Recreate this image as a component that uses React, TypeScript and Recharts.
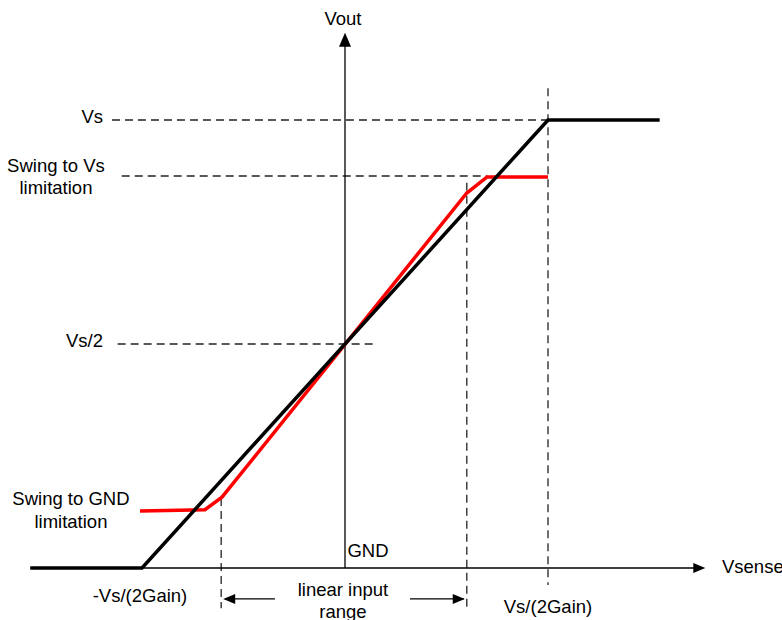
import React from 'react'
import { ComposedChart, Line, XAxis, YAxis, ReferenceLine, ReferenceDot } from 'recharts'

// x: multiples of Vs/(2Gain), y: multiples of Vs
const idealX = [-1.55, -1, 1, 1.55]
const idealY = [0, 0, 1, 1]
const realX = [-1.01, -0.69, -0.606, 0.6, 0.7, 1.0]
const realY = [0.127, 0.13, 0.158, 0.837, 0.873, 0.873]

const idealData = idealX.map((x, i) => ({ x, y: idealY[i] }))
const realData = realX.map((x, i) => ({ x, y: realY[i] }))

const dashed = [
  { from: [-1.148, 1], to: [1.0, 1] },
  { from: [-1.1, 0.875], to: [0.7, 0.875] },
  { from: [-1.12, 0.5], to: [0.148, 0.5] },
  { from: [1.0, 1.071], to: [1.0, -0.038] },
  { from: [0.6, 0.86], to: [0.6, -0.09] },
  { from: [-0.61, 0.156], to: [-0.61, -0.09] },
]

const solid = [
  { from: [0, 0], to: [0, 1.17] },
  { from: [-1.55, 0], to: [1.72, 0] },
  { from: [-0.59, -0.069], to: [-0.345, -0.069] },
  { from: [0.32, -0.069], to: [0.585, -0.069] },
]

// arrow heads: position + direction
const arrows = [
  { x: 0, y: 1.195, dir: 'up', len: 14, half: 6 },
  { x: 1.775, y: 0, dir: 'right', len: 12, half: 5 },
  { x: -0.6, y: -0.069, dir: 'left', len: 12, half: 5 },
  { x: 0.59, y: -0.069, dir: 'right', len: 12, half: 5 },
]

const labels = [
  { text: 'Vout', x: -0.01, y: 1.212, anchor: 'middle' },
  { text: 'Vs', x: -1.192, y: 0.993, anchor: 'end' },
  { text: 'Swing to Vs', x: -1.424, y: 0.884, anchor: 'middle' },
  { text: 'limitation', x: -1.424, y: 0.835, anchor: 'middle' },
  { text: 'Vs/2', x: -1.192, y: 0.493, anchor: 'end' },
  { text: 'Swing to GND', x: -1.35, y: 0.141, anchor: 'middle' },
  { text: 'limitation', x: -1.35, y: 0.089, anchor: 'middle' },
  { text: 'GND', x: 0.113, y: 0.025, anchor: 'middle' },
  { text: '-Vs/(2Gain)', x: -1.01, y: -0.076, anchor: 'middle' },
  { text: 'linear input', x: -0.01, y: -0.0625, anchor: 'middle' },
  { text: 'range', x: -0.01, y: -0.112, anchor: 'middle' },
  { text: 'Vs/(2Gain)', x: 1.0, y: -0.1, anchor: 'middle' },
  { text: 'Vsense', x: 1.857, y: -0.011, anchor: 'start' },
]

const font = '"Liberation Sans", Arial, sans-serif'

function arrowShape(dir: string, len: number, half: number) {
  return (props: any) => {
    const { cx, cy } = props
    let d = ''
    if (dir === 'up') d = `M${cx},${cy} L${cx - half},${cy + len} L${cx + half},${cy + len} Z`
    if (dir === 'right') d = `M${cx},${cy} L${cx - len},${cy - half} L${cx - len},${cy + half} Z`
    if (dir === 'left') d = `M${cx},${cy} L${cx + len},${cy - half} L${cx + len},${cy + half} Z`
    return <path d={d} fill="#000" />
  }
}

function textShape(text: string, anchor: any) {
  return (props: any) => (
    <text x={props.cx} y={props.cy} textAnchor={anchor} fontFamily={font} fontSize={18.5} fill="#000">
      {text}
    </text>
  )
}

export default function App() {
  return (
    <div style={{ position: 'absolute', left: 0, top: 0, background: '#fff' }}>
      <ComposedChart width={782} height={620} margin={{ top: 8, right: 71.6, bottom: 7.2, left: 20.2 }}>
        <XAxis type="number" dataKey="x" domain={[-1.6, 1.8]} hide allowDataOverflow />
        <YAxis type="number" dataKey="y" domain={[-0.1, 1.25]} hide allowDataOverflow />
        {dashed.map((s, i) => (
          <ReferenceLine
            key={'d' + i}
            segment={[{ x: s.from[0], y: s.from[1] }, { x: s.to[0], y: s.to[1] }]}
            stroke="#222"
            strokeWidth={1.3}
            strokeDasharray="8 5"
            ifOverflow="visible"
          />
        ))}
        {solid.map((s, i) => (
          <ReferenceLine
            key={'s' + i}
            segment={[{ x: s.from[0], y: s.from[1] }, { x: s.to[0], y: s.to[1] }]}
            stroke="#000"
            strokeWidth={1.3}
            ifOverflow="visible"
          />
        ))}
        <Line data={realData} dataKey="y" type="linear" stroke="#ff0000" strokeWidth={3.5} dot={false} isAnimationActive={false} />
        <Line data={idealData} dataKey="y" type="linear" stroke="#000" strokeWidth={3.5} dot={false} isAnimationActive={false} />
        {arrows.map((a, i) => (
          <ReferenceDot key={'a' + i} x={a.x} y={a.y} r={0} ifOverflow="visible" shape={arrowShape(a.dir, a.len, a.half)} />
        ))}
        {labels.map((l, i) => (
          <ReferenceDot key={'l' + i} x={l.x} y={l.y} r={0} ifOverflow="visible" shape={textShape(l.text, l.anchor)} />
        ))}
      </ComposedChart>
    </div>
  )
}
